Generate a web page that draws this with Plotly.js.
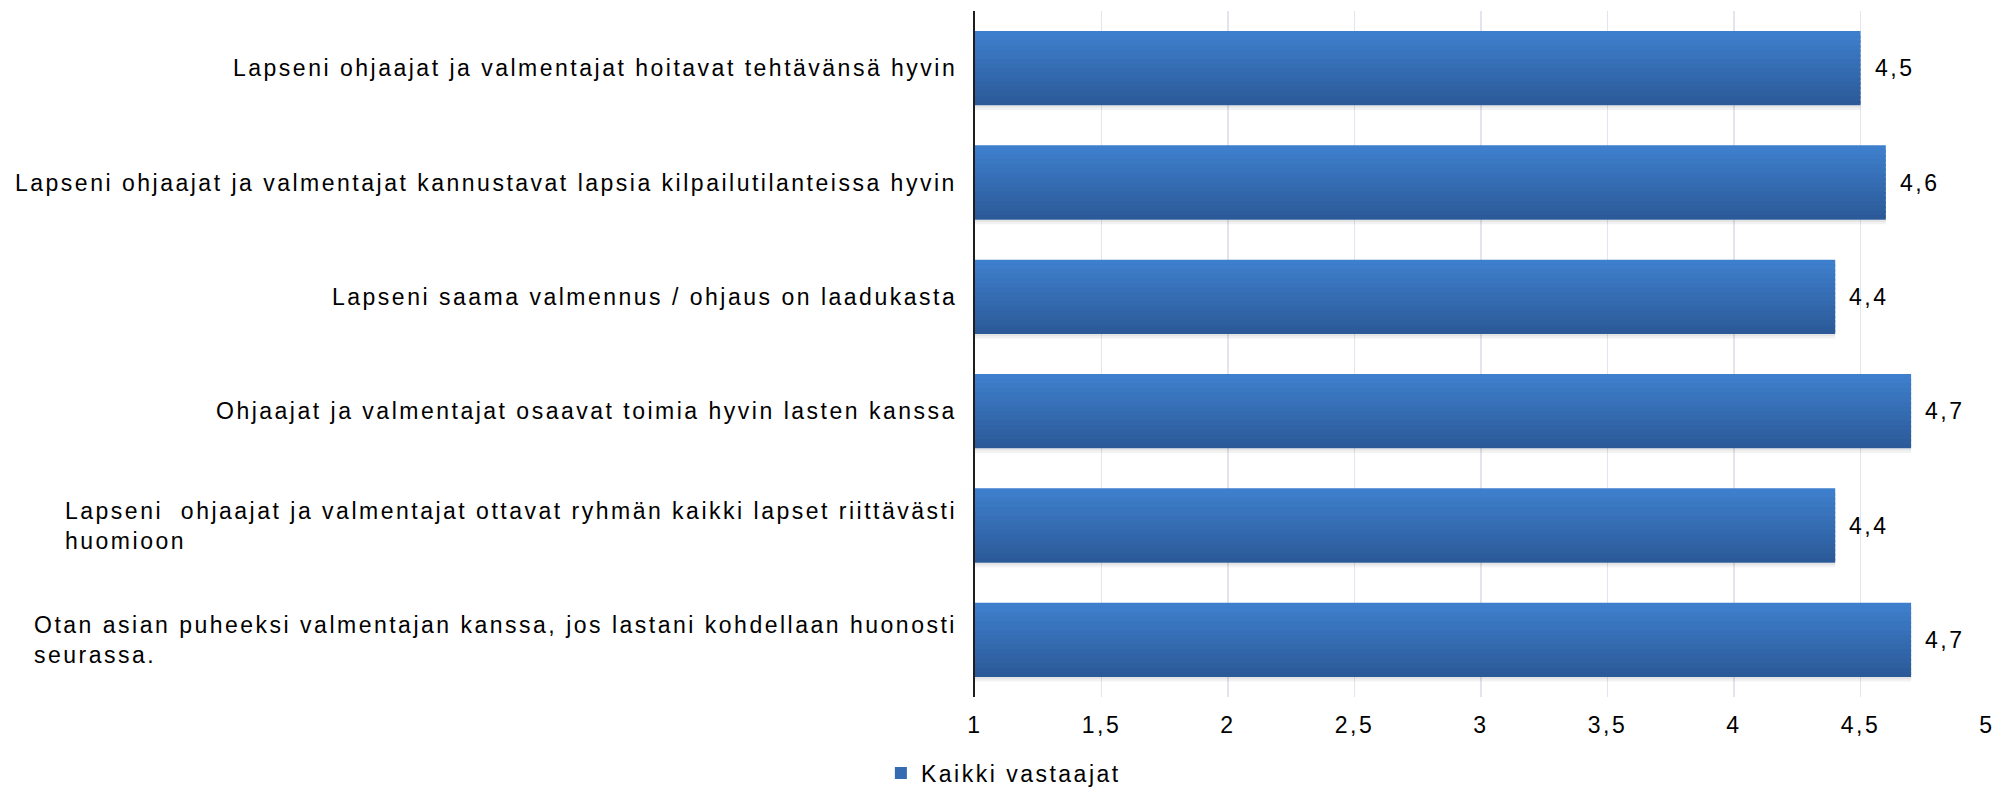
<!DOCTYPE html>
<html>
<head>
<meta charset="utf-8">
<script src="https://cdn.plot.ly/plotly-3.0.1.min.js"></script>
<style>
  html, body { margin: 0; padding: 0; background: #ffffff; }
  #chart { width: 2013px; height: 787px; }
  text { letter-spacing: 2.5px; }
</style>
</head>
<body>
<div id="chart"></div>
<script>
// ---- data ----
const categories = [
  "Lapseni ohjaajat ja valmentajat hoitavat tehtävänsä hyvin",
  "Lapseni ohjaajat ja valmentajat kannustavat lapsia kilpailutilanteissa hyvin",
  "Lapseni saama valmennus / ohjaus on laadukasta",
  "Ohjaajat ja valmentajat osaavat toimia hyvin lasten kanssa",
  "Lapseni  ohjaajat ja valmentajat ottavat ryhmän kaikki lapset riittävästi<br>huomioon",
  "Otan asian puheeksi valmentajan kanssa, jos lastani kohdellaan huonosti<br>seurassa."
];
const values = [4.5, 4.6, 4.4, 4.7, 4.4, 4.7];
const seriesName = "Kaikki vastaajat";
const xTickVals = [1, 1.5, 2, 2.5, 3, 3.5, 4, 4.5, 5];

// ---- style ----
const FONT = "Liberation Sans, Arial, sans-serif";
const FS = 23;
const barWidth = 0.65;
const nStrips = 16;
const topCol = [62, 127, 205];
const botCol = [44, 90, 152];

function mix(t) {
  const c = topCol.map((v, k) => Math.round(v + (botCol[k] - v) * t));
  return "rgb(" + c.join(",") + ")";
}

const lengths = values.map(v => v - 1);
const traces = [];
const w = barWidth / nStrips;
// soft shadow strips under bars
const shadow = [["rgba(0,0,0,0.10)", 0.02], ["rgba(0,0,0,0.05)", 0.02]];
let sOff = barWidth / 2;
shadow.forEach(([col, sw]) => {
  traces.push({
    type: "bar", orientation: "h", x: lengths, y: categories, base: 1,
    width: sw, offset: sOff, marker: { color: col, line: { width: 0 } },
    showlegend: false, hoverinfo: "skip"
  });
  sOff += sw;
});
// gradient strips forming each bar
for (let i = 0; i < nStrips; i++) {
  const t = i / (nStrips - 1);
  const main = i === Math.floor(nStrips / 2);
  traces.push({
    type: "bar", orientation: "h",
    x: lengths, base: 1,
    y: categories,
    width: i === nStrips - 1 ? w : w * 1.6,
    offset: -barWidth / 2 + i * w,
    marker: { color: mix(t), line: { width: 0 } },
    name: seriesName,
    showlegend: main,
    hoverinfo: main ? "x+y" : "skip"
  });
}

const annotations = [];
categories.forEach((c, i) => {
  annotations.push({
    xref: "paper", yref: "y", x: 0, y: c, xanchor: "right", yanchor: "middle",
    xshift: -16, text: c, align: "left", showarrow: false,
    font: { family: FONT, size: FS, color: "#000000" }
  });
  annotations.push({
    xref: "x", yref: "y", x: values[i], y: c, xanchor: "left", yanchor: "middle",
    xshift: 12, text: values[i].toFixed(1).replace(".", ","), showarrow: false,
    font: { family: FONT, size: FS, color: "#000000" }
  });
});

const layout = {
  width: 2013, height: 787,
  margin: { l: 975, r: 26, t: 11, b: 90, pad: 0, autoexpand: false },
  paper_bgcolor: "#ffffff", plot_bgcolor: "#ffffff",
  separators: ", ",
  barmode: "overlay",
  font: { family: FONT, size: FS, color: "#000000" },
  xaxis: {
    range: [1, 5], tickvals: xTickVals, tickformat: ".1~f",
    showgrid: true, gridcolor: "#e4e4ee", gridwidth: 1.5,
    zeroline: false, showline: false, ticks: "",
    ticklabelstandoff: 12, automargin: false,
    tickfont: { family: FONT, size: FS, color: "#000000" },
    fixedrange: true
  },
  yaxis: {
    type: "category", autorange: "reversed", range: [5.5, -0.5],
    showticklabels: false, showgrid: false, zeroline: false,
    showline: true, linecolor: "#1e1e1e", linewidth: 2, ticks: "",
    automargin: false, fixedrange: true
  },
  showlegend: true,
  legend: {
    orientation: "h", x: -0.093, xanchor: "left", y: -0.111, yanchor: "middle",
    font: { family: FONT, size: FS, color: "#000000" },
    bgcolor: "rgba(0,0,0,0)", borderwidth: 0
  },
  annotations: annotations
};

Plotly.newPlot("chart", traces, layout, { displayModeBar: false, staticPlot: true });
</script>
</body>
</html>
